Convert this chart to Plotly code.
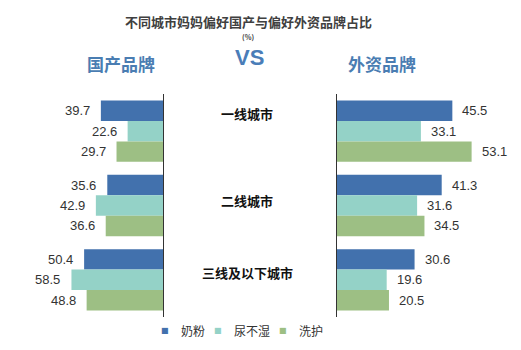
import plotly.graph_objects as go

cities = ["一线城市", "二线城市", "三线及以下城市"]
series = ["奶粉", "尿不湿", "洗护"]
domestic = {
    "奶粉": [39.7, 35.6, 50.4],
    "尿不湿": [22.6, 42.9, 58.5],
    "洗护": [29.7, 36.6, 48.8],
}
foreign = {
    "奶粉": [45.5, 41.3, 30.6],
    "尿不湿": [33.1, 31.6, 19.6],
    "洗护": [53.1, 34.5, 20.5],
}
colors = {"奶粉": "#4271ad", "尿不湿": "#94d2c7", "洗护": "#9dbf84"}

W, H = 521, 350
fig = go.Figure()

bar_px = 20.3
for i, s in enumerate(series):
    fig.add_trace(go.Bar(y=cities, x=domestic[s], orientation="h", marker_color=colors[s],
                         marker_line_width=0, xaxis="x", yaxis="y", showlegend=False, name=s))
    fig.add_trace(go.Bar(y=cities, x=foreign[s], orientation="h", marker_color=colors[s],
                         marker_line_width=0, xaxis="x2", yaxis="y2", showlegend=False, name=s))

annotations = []
numfont = dict(family="Liberation Sans, Arial", size=13, color="#333333")
for i, s in enumerate(series):
    ys = (1 - i) * bar_px
    for c, v in zip(cities, domestic[s]):
        annotations.append(dict(x=v, y=c, xref="x", yref="y", text=f"{v:.1f}", showarrow=False,
                                xanchor="right", xshift=-9, yshift=ys, font=numfont))
    for c, v in zip(cities, foreign[s]):
        annotations.append(dict(x=v, y=c, xref="x2", yref="y2", text=f"{v:.1f}", showarrow=False,
                                xanchor="left", xshift=8, yshift=ys, font=numfont))

cat_y = [113, 200, 272]
for c, py in zip(cities, cat_y):
    annotations.append(dict(x=247 / W, y=(H - py) / H, xref="paper", yref="paper", text=f"<b>{c}</b>",
                            showarrow=False, xanchor="center", yanchor="middle",
                            font=dict(family="Noto Sans CJK SC", size=13, color="#111111")))

annotations += [
    dict(x=248 / W, y=(H - 22) / H, xref="paper", yref="paper", showarrow=False,
         text="<b>不同城市妈妈偏好国产与偏好外资品牌占比</b>", xanchor="center", yanchor="middle",
         borderpad=0, font=dict(family="Noto Sans CJK SC", size=13, color="#404040")),
    dict(x=248 / W, y=(H - 37.5) / H, xref="paper", yref="paper", showarrow=False,
         text="<b>(%)</b>", xanchor="center", yanchor="middle", borderpad=0,
         font=dict(family="Noto Sans CJK SC", size=7, color="#404040")),
    dict(x=249 / W, y=(H - 58) / H, xref="paper", yref="paper", showarrow=False,
         text="<b>VS</b>", xanchor="center", yanchor="middle", borderpad=0,
         font=dict(family="Liberation Sans Narrow, Liberation Sans", size=22, color="#4a7db8")),
    dict(x=121 / W, y=(H - 63) / H, xref="paper", yref="paper", showarrow=False,
         text="<b>国产品牌</b>", xanchor="center", yanchor="middle",
         font=dict(family="Noto Sans CJK SC", size=17, color="#4a7db2")),
    dict(x=382 / W, y=(H - 63) / H, xref="paper", yref="paper", showarrow=False,
         text="<b>外资品牌</b>", xanchor="center", yanchor="middle",
         font=dict(family="Noto Sans CJK SC", size=17, color="#4a7db2")),
]

# manual legend
leg_sq_x = [165, 218, 283]
leg_tx_x = [179, 232, 297]
leg_y = (H - 330) / H
for s, sx, tx in zip(series, leg_sq_x, leg_tx_x):
    annotations.append(dict(x=sx / W, y=leg_y, xref="paper", yref="paper", showarrow=False,
                            text="■", xanchor="center", yanchor="middle",
                            font=dict(family="DejaVu Sans", size=8, color=colors[s])))
    annotations.append(dict(x=tx / W, y=leg_y, xref="paper", yref="paper", showarrow=False,
                            text=s, xanchor="left", yanchor="middle",
                            font=dict(family="Noto Sans CJK SC", size=12, color="#333333")))

left_px = 1.565
right_px = 2.535
lx0, lx1 = 40, 163
rx0, rx1 = 337, 500
ydom = [(H - 317) / H, (H - 94) / H]

fig.update_layout(
    width=W, height=H, margin=dict(l=0, r=0, t=0, b=0),
    paper_bgcolor="white", plot_bgcolor="white",
    barmode="group", bargap=0.176, bargroupgap=0, showlegend=False,
    xaxis=dict(domain=[lx0 / W, lx1 / W], range=[(lx1 - lx0) / left_px, 0], visible=False, fixedrange=True),
    xaxis2=dict(domain=[rx0 / W, rx1 / W], range=[0, (rx1 - rx0) / right_px], visible=False, fixedrange=True),
    yaxis=dict(domain=ydom, anchor="x", autorange="reversed", side="right", showticklabels=False,
               showline=True, linecolor="#333333", linewidth=1, ticks="", showgrid=False, zeroline=False),
    yaxis2=dict(domain=ydom, anchor="x2", autorange="reversed", side="left", showticklabels=False,
                showline=True, linecolor="#333333", linewidth=1, ticks="", showgrid=False, zeroline=False,
                matches="y"),
    annotations=annotations,
)

fig.write_html("out.html")
